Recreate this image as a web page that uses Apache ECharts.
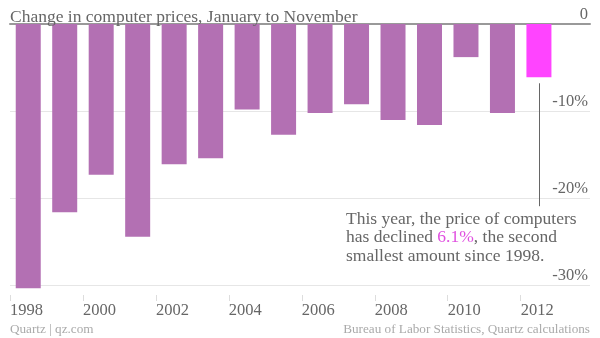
<!DOCTYPE html>
<html>
<head>
<meta charset="utf-8">
<script src="https://cdn.jsdelivr.net/npm/echarts@6/dist/echarts.min.js"></script>
<style>html,body{margin:0;padding:0;background:#fff}#c{width:600px;height:338px}</style>
</head>
<body>
<div id="c"></div>
<script>
// Data
const years = [1998, 1999, 2000, 2001, 2002, 2003, 2004, 2005, 2006, 2007, 2008, 2009, 2010, 2011, 2012];
const changes = [-30.3, -21.6, -17.3, -24.4, -16.1, -15.4, -9.8, -12.7, -10.2, -9.2, -11.0, -11.6, -3.8, -10.2, -6.1];
const yearTicks = [1998, 2000, 2002, 2004, 2006, 2008, 2010, 2012];
const percentTicks = [0, -10, -20, -30];
const titleText = 'Change in computer prices, January to November';
const noteLines = ['This year, the price of computers', 'has declined ', '6.1%', ', the second', 'smallest amount since 1998.'];
const sourceLeft = 'Quartz | qz.com';
const sourceRight = 'Bureau of Labor Statistics, Quartz calculations';

const FONT = '"Liberation Serif", "DejaVu Serif", serif';
const BAR = '#b370b3';
const HIGHLIGHT = '#ff44ff';
const lastIdx = years.length - 1;

const barData = years.map((y, i) => ({
  value: [y + 0.5, changes[i]],
  itemStyle: i === lastIdx ? { color: HIGHLIGHT } : undefined
}));

const chart = echarts.init(document.getElementById('c'), null, { renderer: 'canvas' });
chart.setOption({
  animation: false,
  backgroundColor: '#fff',
  title: {
    text: titleText, left: 5, top: 3,
    textStyle: { fontFamily: FONT, fontSize: 17.5, fontWeight: 'normal', color: '#666' }
  },
  grid: { left: 10, right: 10, top: 24, bottom: 49, containLabel: false },
  xAxis: [{
    type: 'value', min: 1998, max: 2013.9, position: 'bottom', offset: 6,
    axisLine: { show: false, onZero: false },
    axisTick: { show: true, customValues: yearTicks, length: 6, lineStyle: { color: '#ddd' } },
    axisLabel: {
      customValues: yearTicks, align: 'left', margin: 7,
      formatter: v => String(v),
      fontFamily: FONT, fontSize: 16.5, color: '#666'
    },
    splitLine: { show: false }
  }, {
    type: 'value', min: 1998, max: 2013.9, position: 'top',
    axisLine: { show: true, onZero: false, lineStyle: { color: '#999', width: 2 } },
    axisTick: { show: false }, axisLabel: { show: false }, splitLine: { show: false }
  }],
  yAxis: {
    type: 'value', min: -30.4, max: 0, splitNumber: 3, position: 'right',
    axisLine: { show: false }, axisTick: { show: false },
    axisLabel: {
      inside: true, margin: 2, verticalAlign: 'bottom', padding: [0, 0, 1, 0],
      customValues: percentTicks,
      formatter: v => (v === 0 ? '0' : v + '%'),
      fontFamily: FONT, fontSize: 16.5, color: '#666'
    },
    splitLine: { show: true, showMinLine: false, showMaxLine: false, lineStyle: { color: '#e6e6e6', width: 1 } }
  },
  series: [{
    type: 'bar', data: barData, barWidth: 25, itemStyle: { color: BAR },
    xAxisIndex: 0,
    markLine: {
      silent: true, symbol: ['none', 'none'], animation: false,
      label: { show: false },
      lineStyle: { color: '#666', width: 1, type: 'solid' },
      data: [[{ coord: [2012.5, -6.8] }, { coord: [2012.5, -20.9] }]]
    }
  }],
  graphic: [{
    type: 'text', left: 346, top: 210,
    style: {
      text: '{a|' + noteLines[0] + '}\n{a|' + noteLines[1] + '}{h|' + noteLines[2] + '}{a|' + noteLines[3] + '}\n{a|' + noteLines[4] + '}',
      rich: {
        a: { fontFamily: FONT, fontSize: 17.5, fill: '#666', lineHeight: 18.5 },
        h: { fontFamily: FONT, fontSize: 17.5, fill: '#e050e0', lineHeight: 18.5 }
      }
    }
  }, {
    type: 'text', left: 10, top: 323,
    style: { text: sourceLeft, fontFamily: FONT, fontSize: 13.2, fill: '#aaa' }
  }, {
    type: 'text', right: 10, top: 323,
    style: { text: sourceRight, fontFamily: FONT, fontSize: 13.2, fill: '#aaa' }
  }]
});
</script>
</body>
</html>
